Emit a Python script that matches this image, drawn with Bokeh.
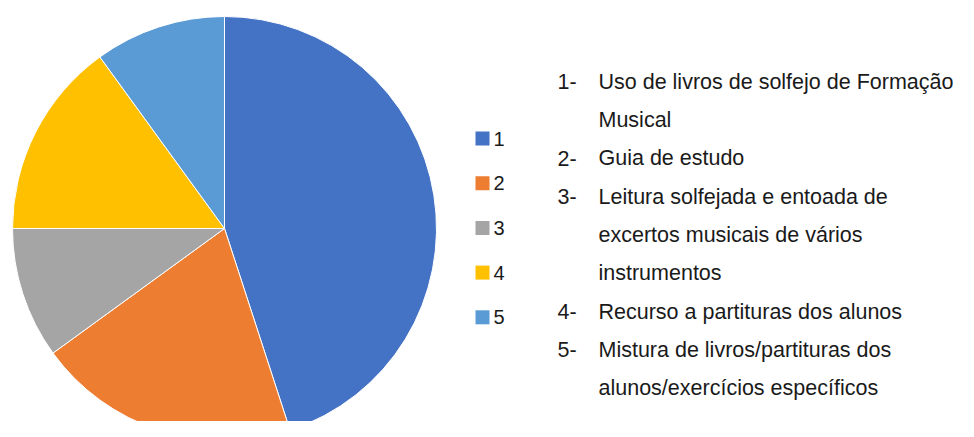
import math
from bokeh.plotting import figure
from bokeh.models import Range1d, ColumnDataSource
from bokeh.core.properties import value
from bokeh.embed import file_html
from bokeh.resources import INLINE

# Data
categories = ["1", "2", "3", "4", "5"]
shares = [45, 20, 10, 15, 10]
colors = ["#4472C4", "#ED7D31", "#A5A5A5", "#FFC000", "#5B9BD5"]
note_numbers = ["1-", "", "2-", "3-", "", "", "4-", "5-", ""]
note_lines = [
    "Uso de livros de solfejo de Formação",
    "Musical",
    "Guia de estudo",
    "Leitura solfejada e entoada de",
    "excertos musicais de vários",
    "instrumentos",
    "Recurso a partituras dos alunos",
    "Mistura de livros/partituras dos",
    "alunos/exercícios específicos",
]

W, H = 958, 421
p = figure(width=W, height=H, output_backend="svg", toolbar_location=None,
           x_range=Range1d(0, W), y_range=Range1d(437 - H, 437),
           min_border=0)
p.axis.visible = False
p.grid.visible = False
p.outline_line_color = None
p.background_fill_color = "white"
p.border_fill_color = "white"

# pie
cx, cy, r = 224, 437 - 228, 212
total = float(sum(shares))
cum = [0.0]
for s in shares:
    cum.append(cum[-1] + s / total)
starts = [math.pi / 2 - 2 * math.pi * cum[i + 1] for i in range(len(shares))]
ends = [math.pi / 2 - 2 * math.pi * cum[i] for i in range(len(shares))]
src = ColumnDataSource(dict(start=starts, end=ends, color=colors))
p.wedge(x=cx, y=cy, radius=r, start_angle="start", end_angle="end",
        direction="anticlock", fill_color="color", line_color="white",
        line_width=1, source=src)

# legend
ly = [437 - (138 + 44.7 * i) for i in range(len(categories))]
p.scatter(x=[482] * len(categories), y=ly, marker="square", size=14,
          fill_color=colors, line_color=None)
p.text(x=[493] * len(categories), y=ly, text=categories,
       text_font=value("Liberation Sans"), text_font_size="20px",
       text_baseline="middle", text_color="#1a1a1a")

# notes
by = [437 - (81 + 38.35 * i) for i in range(len(note_lines))]
p.text(x=[557] * len(note_numbers), y=by, text=note_numbers,
       text_font=value("Liberation Sans"), text_font_size="21.5px",
       text_baseline="alphabetic", text_color="#1a1a1a")
p.text(x=[598] * len(note_lines), y=by, text=note_lines,
       text_font=value("Liberation Sans"), text_font_size="21.5px",
       text_baseline="alphabetic", text_color="#1a1a1a")

open("out.html", "w").write(file_html(p, INLINE))
